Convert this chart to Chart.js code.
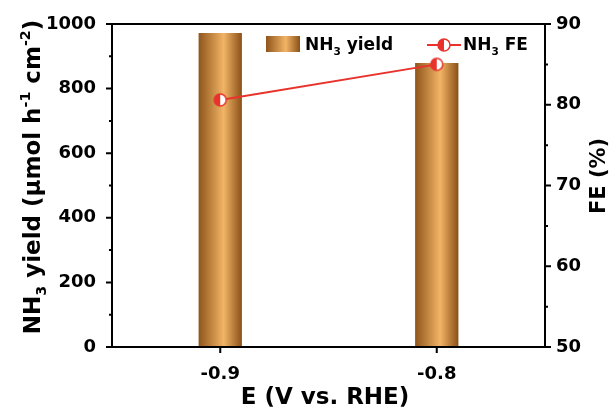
<!DOCTYPE html>
<html>
<head>
    <title>NH3 yield and FE</title>
    <script src="https://cdn.jsdelivr.net/npm/chart.js@4.4.2/dist/chart.umd.min.js"></script>
    <style>
        body { margin: 0; background: #fff; }
        canvas { display: block; }
    </style>
</head>
<body>
    <canvas id="chart" width="615" height="412"></canvas>
    <script>
        // data
        const potentials = ['-0.9', '-0.8'];
        const yieldValues = [972, 879];
        const feValues = [80.6, 85.0];
        const yieldRange = [0, 1000];
        const feRange = [50, 90];

        const FONT = '"DejaVu Sans", Arial, sans-serif';
        const RED = '#e8322b';

        // half-filled circle marker
        function makeMarker() {
            const c = document.createElement('canvas');
            c.width = 16; c.height = 16;
            const g = c.getContext('2d');
            g.fillStyle = '#fff';
            g.beginPath(); g.arc(8, 8, 6, 0, Math.PI * 2); g.fill();
            g.fillStyle = RED;
            g.beginPath(); g.arc(8, 8, 6, Math.PI / 2, Math.PI * 1.5); g.closePath(); g.fill();
            g.strokeStyle = RED; g.lineWidth = 1.5;
            g.beginPath(); g.arc(8, 8, 6, 0, Math.PI * 2); g.stroke();
            return c;
        }
        const marker = makeMarker();

        function brownGradient(ctx, x0, x1) {
            const g = ctx.createLinearGradient(x0, 0, x1, 0);
            g.addColorStop(0, '#8f551b');
            g.addColorStop(0.58, '#f2b466');
            g.addColorStop(1, '#8a5018');
            return g;
        }

        function barGradient(context) {
            const chart = context.chart;
            const x = chart.scales.x;
            if (!x || context.dataIndex === undefined) return '#d99a4e';
            const cx = x.getPixelForValue(context.dataIndex);
            const w = (x.width / potentials.length) * 0.2;
            if (!isFinite(cx) || !isFinite(w) || w <= 0) return '#d99a4e';
            return brownGradient(chart.ctx, cx - w / 2, cx + w / 2);
        }

        // text with sub / superscripts: parts = [[text, 'sub'|'sup'|'']]
        function richWidth(ctx, parts, size) {
            let w = 0;
            parts.forEach(p => {
                ctx.font = 'bold ' + (p[1] ? size * 0.62 : size) + 'px ' + FONT;
                w += ctx.measureText(p[0]).width;
            });
            return w;
        }
        function drawRich(ctx, parts, x, y, size) {
            ctx.textBaseline = 'alphabetic';
            ctx.textAlign = 'left';
            parts.forEach(p => {
                const s = p[1] ? size * 0.62 : size;
                ctx.font = 'bold ' + s + 'px ' + FONT;
                let dy = 0;
                if (p[1] === 'sub') dy = size * 0.28;
                if (p[1] === 'sup') dy = -size * 0.42;
                ctx.fillText(p[0], x, y + dy);
                x += ctx.measureText(p[0]).width;
            });
        }

        const decor = {
            id: 'decor',
            afterDraw(chart) {
                const ctx = chart.ctx;
                const a = chart.chartArea;
                const y = chart.scales.y, y1 = chart.scales.y1, x = chart.scales.x;
                ctx.save();
                ctx.strokeStyle = '#000';
                ctx.fillStyle = '#000';
                ctx.lineWidth = 2;
                ctx.strokeRect(a.left, a.top, a.right - a.left, a.bottom - a.top);

                // ticks
                ctx.beginPath();
                for (let v = yieldRange[0]; v <= yieldRange[1]; v += 100) {
                    const py = y.getPixelForValue(v);
                    const len = v % 200 === 0 ? 6 : 3;
                    ctx.moveTo(a.left, py); ctx.lineTo(a.left - len, py);
                }
                for (let v = feRange[0]; v <= feRange[1]; v += 5) {
                    const py = y1.getPixelForValue(v);
                    const len = v % 10 === 0 ? 6 : 3;
                    ctx.moveTo(a.right, py); ctx.lineTo(a.right + len, py);
                }
                potentials.forEach((p, i) => {
                    const px = x.getPixelForValue(i);
                    ctx.moveTo(px, a.bottom); ctx.lineTo(px, a.bottom + 6);
                });
                ctx.stroke();

                // axis titles
                ctx.font = 'bold 23px ' + FONT;
                ctx.textAlign = 'center';
                ctx.textBaseline = 'alphabetic';
                ctx.fillText('E (V vs. RHE)', 325, 404);

                const yTitle = [['NH', ''], ['3', 'sub'], [' yield (μmol h', ''], ['-1', 'sup'], [' cm', ''], ['-2', 'sup'], [')', '']];
                const tw = richWidth(ctx, yTitle, 23);
                ctx.save();
                ctx.translate(40, 177);
                ctx.rotate(-Math.PI / 2);
                drawRich(ctx, yTitle, -tw / 2, 0, 23);
                ctx.restore();

                ctx.save();
                ctx.translate(605, 176);
                ctx.rotate(-Math.PI / 2);
                ctx.font = 'bold 21px ' + FONT;
                ctx.textAlign = 'center';
                ctx.fillText('FE (%)', 0, 0);
                ctx.restore();

                // legend
                ctx.fillStyle = brownGradient(ctx, 266, 300);
                ctx.fillRect(266, 36, 34, 16);
                ctx.fillStyle = '#000';
                drawRich(ctx, [['NH', ''], ['3', 'sub'], [' yield', '']], 305, 50, 17);

                ctx.strokeStyle = RED;
                ctx.lineWidth = 2;
                ctx.beginPath();
                ctx.moveTo(427, 45); ctx.lineTo(461, 45);
                ctx.stroke();
                ctx.drawImage(marker, 444 - 8, 45 - 8);
                ctx.fillStyle = '#000';
                drawRich(ctx, [['NH', ''], ['3', 'sub'], [' FE', '']], 463, 50, 17);
                ctx.restore();
            }
        };

        const tickFont = { family: FONT, size: 18, weight: 'bold' };

        new Chart(document.getElementById('chart'), {
            data: {
                labels: potentials,
                datasets: [{
                    type: 'line',
                    label: 'NH3 FE',
                    data: feValues,
                    yAxisID: 'y1',
                    borderColor: RED,
                    borderWidth: 2,
                    pointStyle: marker,
                    pointRadius: 6,
                    tension: 0
                }, {
                    type: 'bar',
                    label: 'NH3 yield',
                    data: yieldValues,
                    yAxisID: 'y',
                    backgroundColor: barGradient,
                    borderWidth: 0,
                    categoryPercentage: 1,
                    barPercentage: 0.2
                }]
            },
            options: {
                responsive: false,
                animation: false,
                layout: { padding: { top: 24, left: 0, right: 0, bottom: 0 } },
                plugins: { legend: { display: false }, tooltip: { enabled: false } },
                scales: {
                    x: {
                        type: 'category',
                        offset: true,
                        grid: { display: false },
                        border: { display: false },
                        ticks: { color: '#000', padding: 9, font: tickFont },
                        afterFit: s => { s.height = 65; }
                    },
                    y: {
                        position: 'left',
                        min: yieldRange[0],
                        max: yieldRange[1],
                        grid: { display: false },
                        border: { display: false },
                        ticks: { stepSize: 200, color: '#000', padding: 8, font: tickFont, callback: v => String(v) },
                        afterFit: s => { s.width = 112; }
                    },
                    y1: {
                        position: 'right',
                        min: feRange[0],
                        max: feRange[1],
                        grid: { display: false },
                        border: { display: false },
                        ticks: { stepSize: 10, color: '#000', padding: 3, font: tickFont, callback: v => String(v) },
                        afterFit: s => { s.width = 70; }
                    }
                }
            },
            plugins: [decor]
        });
    </script>
</body>
</html>
